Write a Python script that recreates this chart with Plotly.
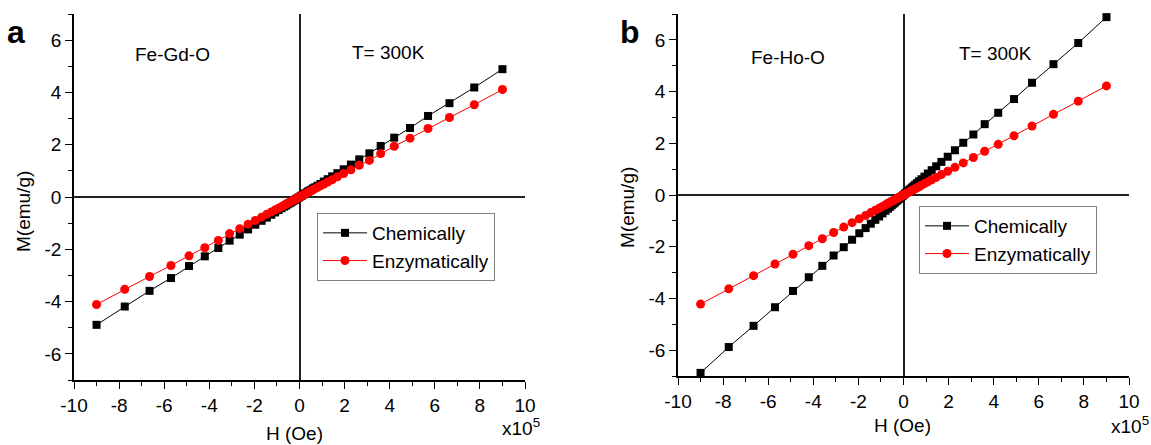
import plotly.graph_objects as go

# Field H in units of 1e5 Oe
H = [-9.0, -7.75, -6.65, -5.7, -4.9, -4.2, -3.6, -3.1, -2.65, -2.28, -1.96, -1.68, -1.45, -1.25,
     -1.08, -0.93, -0.8, -0.69, -0.6, -0.52, -0.45, -0.38, -0.32, -0.26, -0.2, -0.15, -0.1, -0.05,
     0.0, 0.05, 0.1, 0.15, 0.2, 0.26, 0.32, 0.38, 0.45, 0.52, 0.6, 0.69, 0.8, 0.93, 1.08, 1.25,
     1.45, 1.68, 1.96, 2.28, 2.65, 3.1, 3.6, 4.2, 4.9, 5.7, 6.65, 7.75, 9.0]

# Panel a: Fe-Gd-O
gd_chem = [-4.89, -4.19, -3.59, -3.10, -2.64, -2.27, -1.95, -1.67, -1.44, -1.24, -1.06, -0.91, -0.79, -0.68,
           -0.59, -0.50, -0.43, -0.37, -0.33, -0.28, -0.24, -0.21, -0.17, -0.14, -0.11, -0.08, -0.05, -0.03,
           0.0, 0.03, 0.05, 0.08, 0.11, 0.14, 0.17, 0.21, 0.24, 0.28, 0.33, 0.37, 0.43, 0.50, 0.59, 0.68,
           0.79, 0.91, 1.06, 1.24, 1.44, 1.67, 1.95, 2.27, 2.64, 3.10, 3.59, 4.19, 4.89]
gd_enz = [-4.11, -3.53, -3.04, -2.62, -2.25, -1.94, -1.66, -1.40, -1.21, -1.04, -0.90, -0.77, -0.66, -0.57,
          -0.49, -0.43, -0.37, -0.32, -0.27, -0.24, -0.21, -0.17, -0.15, -0.12, -0.09, -0.07, -0.05, -0.02,
          0.0, 0.02, 0.05, 0.07, 0.09, 0.12, 0.15, 0.17, 0.21, 0.24, 0.27, 0.32, 0.37, 0.43, 0.49, 0.57,
          0.66, 0.77, 0.90, 1.04, 1.21, 1.40, 1.66, 1.94, 2.25, 2.62, 3.04, 3.53, 4.11]

# Panel b: Fe-Ho-O
ho_chem = [-6.88, -5.88, -5.06, -4.34, -3.71, -3.18, -2.74, -2.34, -2.02, -1.73, -1.48, -1.28, -1.11, -0.96,
           -0.83, -0.71, -0.61, -0.53, -0.46, -0.40, -0.34, -0.29, -0.24, -0.20, -0.15, -0.11, -0.08, -0.04,
           0.0, 0.04, 0.08, 0.11, 0.15, 0.20, 0.24, 0.29, 0.34, 0.40, 0.46, 0.53, 0.61, 0.71, 0.83, 0.96,
           1.11, 1.28, 1.48, 1.73, 2.02, 2.34, 2.74, 3.18, 3.71, 4.34, 5.06, 5.88, 6.88]
ho_enz = [-4.22, -3.63, -3.12, -2.67, -2.29, -1.96, -1.69, -1.45, -1.24, -1.07, -0.92, -0.79, -0.68, -0.59,
          -0.51, -0.44, -0.38, -0.32, -0.28, -0.24, -0.21, -0.18, -0.15, -0.12, -0.09, -0.07, -0.05, -0.02,
          0.0, 0.02, 0.05, 0.07, 0.09, 0.12, 0.15, 0.18, 0.21, 0.24, 0.28, 0.32, 0.38, 0.44, 0.51, 0.59,
          0.68, 0.79, 0.92, 1.07, 1.24, 1.45, 1.69, 1.96, 2.29, 2.67, 3.12, 3.63, 4.22]

x_ticks = [-10, -8, -6, -4, -2, 0, 2, 4, 6, 8, 10]
y_ticks = [-6, -4, -2, 0, 2, 4, 6]
series_names = ["Chemically", "Enzymatically"]

FONT = "Liberation Sans, Arial, sans-serif"
W, Hpx = 1151, 445

def px(x):
    return x / W

def py(y):
    return 1 - y / Hpx

fig = go.Figure()

def add_series(xa, ya, legend, chem, enz):
    fig.add_trace(go.Scatter(x=H, y=chem, xaxis=xa, yaxis=ya, mode="lines+markers", name=series_names[0],
                             legend=legend, cliponaxis=False,
                             line=dict(color="black", width=1),
                             marker=dict(symbol="square", size=8, color="black")))
    fig.add_trace(go.Scatter(x=H, y=enz, xaxis=xa, yaxis=ya, mode="lines+markers", name=series_names[1],
                             legend=legend, cliponaxis=False,
                             line=dict(color="red", width=1),
                             marker=dict(symbol="circle", size=9, color="red")))

add_series("x", "y", "legend", gd_chem, gd_enz)
add_series("x2", "y2", "legend2", ho_chem, ho_enz)

tickfont = dict(family=FONT, size=19, color="black")

def base_x(domain, anchor):
    return dict(domain=domain, anchor=anchor, range=[-10, 10], tickvals=x_ticks,
                ticktext=[str(v) for v in x_ticks], ticks="outside", ticklen=7, tickwidth=1.3,
                tickcolor="black", showline=True, linecolor="black", linewidth=1.5,
                showgrid=False, zeroline=True, zerolinecolor="#222", zerolinewidth=1.5,
                tickfont=tickfont, automargin=False,
                minor=dict(ticks="outside", ticklen=4, tickwidth=1.3, tickcolor="black",
                           dtick=1, tick0=0, showgrid=False))

def base_y(domain, anchor):
    return dict(domain=domain, anchor=anchor, range=[-7, 7], tickvals=y_ticks,
                ticktext=[str(v) for v in y_ticks], ticks="outside", ticklen=7, tickwidth=1.3,
                tickcolor="black", showline=True, linecolor="black", linewidth=1.5,
                showgrid=False, zeroline=True, zerolinecolor="#222", zerolinewidth=1.5,
                tickfont=tickfont, automargin=False,
                minor=dict(ticks="outside", ticklen=4, tickwidth=1.3, tickcolor="black",
                           dtick=1, tick0=0, showgrid=False))

def top_x(over, anchor):
    return dict(overlaying=over, anchor=anchor, side="top", range=[-10, 10], tickvals=x_ticks,
                ticks="inside", ticklen=7, tickwidth=1.3, tickcolor="black", showticklabels=False,
                showline=True, linecolor="black", linewidth=1.5, showgrid=False, zeroline=False,
                automargin=False,
                minor=dict(ticks="inside", ticklen=4, tickwidth=1.3, tickcolor="black",
                           dtick=1, tick0=0, showgrid=False))

def right_y(over, anchor):
    return dict(overlaying=over, anchor=anchor, side="right", range=[-7, 7], tickvals=y_ticks,
                ticks="inside", ticklen=7, tickwidth=1.3, tickcolor="black", showticklabels=False,
                showline=True, linecolor="black", linewidth=1.5, showgrid=False, zeroline=False,
                automargin=False,
                minor=dict(ticks="inside", ticklen=4, tickwidth=1.3, tickcolor="black",
                           dtick=1, tick0=0, showgrid=False))

xa_dom = [px(74), px(525)]
xb_dom = [px(678), px(1129)]
ya_dom = [py(380), py(14)]
yb_dom = [py(376), py(14)]

legend_common = dict(font=dict(family=FONT, size=19, color="black"), bgcolor="white",
                     bordercolor="#808080", borderwidth=1, xanchor="left", yanchor="top",
                     tracegroupgap=0, itemwidth=44)

txt = dict(family=FONT, size=19, color="black")
annotations = [
    dict(text="a", x=px(16), y=py(32), font=dict(family=FONT, size=32, color="black", weight="bold")),
    dict(text="b", x=px(630), y=py(32), font=dict(family=FONT, size=32, color="black", weight="bold")),
    dict(text="Fe-Gd-O", x=px(172), y=py(55), font=txt),
    dict(text="T= 300K", x=px(389), y=py(52), font=txt),
    dict(text="Fe-Ho-O", x=px(788), y=py(57), font=txt),
    dict(text="T= 300K", x=px(995), y=py(53), font=txt),
    dict(text="M(emu/g)", x=px(23), y=py(212), textangle=-90, font=txt),
    dict(text="M(emu/g)", x=px(627), y=py(208), textangle=-90, font=txt),
    dict(text="H (Oe)", x=px(294), y=py(433), font=txt),
    dict(text="H (Oe)", x=px(902), y=py(425), font=txt),
    dict(text="x10<sup>5</sup>", x=px(521), y=py(427), font=txt),
    dict(text="x10<sup>5</sup>", x=1.0, xanchor="right", y=py(425), font=txt),
]
for a in annotations:
    a.setdefault("xanchor", "center")
    a.update(xref="paper", yref="paper", showarrow=False, yanchor="middle")

fig.update_layout(
    width=W, height=Hpx, autosize=False,
    margin=dict(l=0, r=0, t=0, b=0, autoexpand=False),
    paper_bgcolor="white", plot_bgcolor="white",
    font=dict(family=FONT, color="black"),
    xaxis=base_x(xa_dom, "y"),
    yaxis=base_y(ya_dom, "x"),
    xaxis2=base_x(xb_dom, "y2"),
    yaxis2=base_y(yb_dom, "x2"),
    xaxis3=top_x("x", "y"),
    yaxis3=right_y("y", "x"),
    xaxis4=top_x("x2", "y2"),
    yaxis4=right_y("y2", "x2"),
    legend=dict(x=px(317), y=py(213), **legend_common),
    legend2=dict(x=px(919), y=py(206), **legend_common),
    annotations=annotations,
    showlegend=True,
)

fig.write_html("out.html", config={"displayModeBar": False},
               post_script="document.body.style.margin='0';document.body.style.overflow='hidden';")
